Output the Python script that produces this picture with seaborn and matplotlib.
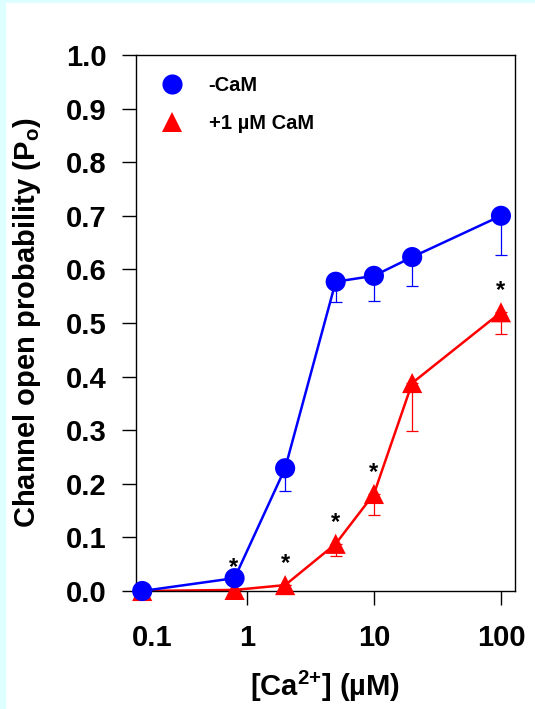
import numpy as np
import pandas as pd
import matplotlib
matplotlib.use("Agg")
import matplotlib.pyplot as plt
from matplotlib.patches import Rectangle
import seaborn as sns

# [Ca2+] (uM); the lowest point is drawn at the axis start and labelled "0.1"
ca = [0.15, 0.8, 2, 5, 10, 20, 100]
po_minus_cam = [0.0, 0.024, 0.229, 0.577, 0.588, 0.623, 0.700]
err_minus_cam = [0.0, 0.0, 0.042, 0.037, 0.047, 0.054, 0.073]
po_plus_cam = [0.0, 0.002, 0.011, 0.088, 0.181, 0.388, 0.520]
err_plus_cam = [0.0, 0.0, 0.0, 0.022, 0.040, 0.090, 0.040]
sig_minus_cam = [0.8]
sig_plus_cam = [2, 5, 10, 100]
labels = ["-CaM", "+1 \u00b5M CaM"]
xtick_pos = [0.18, 1, 10, 100]
xtick_labels = ["0.1", "1", "10", "100"]

sns.set_style("ticks")
plt.rcParams["font.family"] = ["Liberation Sans", "DejaVu Sans"]
plt.rcParams["font.weight"] = "bold"
plt.rcParams["mathtext.fontset"] = "custom"
plt.rcParams["mathtext.rm"] = "Liberation Sans:bold"
plt.rcParams["mathtext.it"] = "Liberation Sans:bold"
plt.rcParams["mathtext.bf"] = "Liberation Sans:bold"
plt.rcParams["mathtext.default"] = "rm"
for k in ["text.color", "axes.labelcolor", "xtick.color", "ytick.color", "axes.edgecolor"]:
    plt.rcParams[k] = "black"

df = pd.DataFrame({
    "ca": ca * 2,
    "po": po_minus_cam + po_plus_cam,
    "err": err_minus_cam + err_plus_cam,
    "cond": [labels[0]] * len(ca) + [labels[1]] * len(ca),
})
colors = {labels[0]: "#0000FF", labels[1]: "#FF0000"}
marks = {labels[0]: "o", labels[1]: "^"}

fig = plt.figure(figsize=(5.35, 7.09), dpi=100)
fig.patch.set_facecolor("#DDFFFF")
fig.patches.append(Rectangle((6 / 535, 0), 1, 1 - 3 / 709, transform=fig.transFigure,
                             facecolor="white", edgecolor="none", zorder=-10))
ax = fig.add_axes([136 / 535, 1 - 591 / 709, (515 - 136) / 535, (591 - 55) / 709])
ax.set_facecolor("white")

for cond in [labels[1], labels[0]]:
    d = df[df["cond"] == cond]
    sns.lineplot(data=d, x="ca", y="po", color=colors[cond], lw=1.8,
                 legend=False, ax=ax, zorder=2)
    ax.errorbar(d["ca"], d["po"], yerr=[d["err"], np.zeros(len(d))], fmt="none",
                ecolor=colors[cond], elinewidth=0.9, capsize=4.3, capthick=0.9,
                zorder=1)

sns.scatterplot(data=df.iloc[::-1], x="ca", y="po", hue="cond", style="cond",
                palette=colors, markers=marks, hue_order=labels, style_order=labels,
                s=210, linewidth=0, ax=ax, zorder=3, clip_on=False)

for x in sig_minus_cam:
    y = po_minus_cam[ca.index(x)]
    ax.annotate("*", (x, y), xytext=(-1, 3), textcoords="offset points",
                ha="center", va="baseline", fontsize=17, fontweight="bold")
for x in sig_plus_cam:
    y = po_plus_cam[ca.index(x)]
    ax.annotate("*", (x, y), xytext=(0, 11), textcoords="offset points",
                ha="center", va="baseline", fontsize=17, fontweight="bold")

ax.set_xscale("log")
ax.set_xlim(0.134, 129)
ax.set_ylim(0, 1)
ax.set_xticks(xtick_pos)
ax.set_xticklabels(xtick_labels)
ax.xaxis.set_minor_locator(matplotlib.ticker.NullLocator())
ax.xaxis.get_major_ticks()[0].tick1line.set_visible(False)
ax.set_yticks(np.arange(0, 1.01, 0.1))
ax.set_yticklabels([f"{v:.1f}" for v in np.arange(0, 1.01, 0.1)])
ax.tick_params(axis="both", direction="out", length=10, width=1, labelsize=21,
               colors="black")
ax.tick_params(axis="x", pad=14)
ax.tick_params(axis="y", pad=11)
for s in ax.spines.values():
    s.set_visible(True)
    s.set_linewidth(1.0)
    s.set_color("black")
ax.set_xlabel("")
ax.set_ylabel("")

fig.text(27 / 535, 1 - 323 / 709, "Channel open probability (P$_{o}$)",
         rotation=90, ha="center", va="center", fontsize=21, fontweight="bold")
fig.text(325 / 535, 1 - 686 / 709, "[Ca$^{2{+}}$] (\u00b5M)",
         ha="center", va="center", fontsize=21, fontweight="bold")

leg = ax.legend(loc="upper left", bbox_to_anchor=(-0.005, 0.995), frameon=False,
                fontsize=14.5, handletextpad=0.8, labelspacing=0.95, markerscale=1.0)
for t in leg.get_texts():
    t.set_fontweight("bold")
    t.set_color("black")

fig.savefig("out.png", dpi=100, facecolor=fig.get_facecolor())
